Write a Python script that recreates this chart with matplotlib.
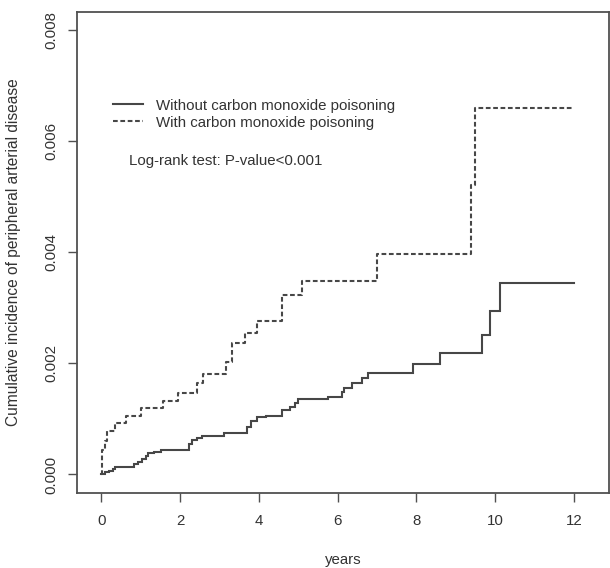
import matplotlib
matplotlib.use("Agg")
import matplotlib.pyplot as plt
from matplotlib.lines import Line2D

# ---- data ----
t_without = [0, 0.1, 0.2, 0.3, 0.35, 0.84, 0.94, 1.04, 1.14, 1.2, 1.35, 1.52,
             2.23, 2.3, 2.44, 2.57, 3.12, 3.71, 3.8, 3.95, 4.19, 4.58, 4.79,
             4.92, 5.0, 5.76, 6.1, 6.17, 6.36, 6.62, 6.77, 7.92, 8.6, 9.66,
             9.88, 10.12, 12.0]
ci_without = [0, 0.00004, 0.00007, 0.0001, 0.00014, 0.00019, 0.00023, 0.00027,
              0.00033, 0.00039, 0.00041, 0.00044, 0.00055, 0.00062, 0.00066,
              0.0007, 0.00074, 0.00085, 0.00097, 0.00103, 0.00106, 0.00116,
              0.00121, 0.00128, 0.00135, 0.0014, 0.00149, 0.00156, 0.00164,
              0.00173, 0.00183, 0.00199, 0.00218, 0.00251, 0.00294, 0.00345,
              0.00345]

t_with = [0, 0.03, 0.1, 0.16, 0.35, 0.63, 1.0, 1.58, 1.96, 2.42, 2.59, 3.16,
          3.31, 3.65, 3.95, 4.59, 5.1, 6.99, 9.38, 9.5, 12.0]
ci_with = [0, 0.00044, 0.0006, 0.00079, 0.00092, 0.00105, 0.00119, 0.00132,
           0.00147, 0.00164, 0.00181, 0.00202, 0.00236, 0.00254, 0.00276,
           0.00323, 0.00349, 0.00396, 0.00521, 0.00659, 0.00659]

labels = ["Without carbon monoxide poisoning", "With carbon monoxide poisoning"]
x_ticks = [0, 2, 4, 6, 8, 10, 12]
y_ticks = [0.000, 0.002, 0.004, 0.006, 0.008]
y_tick_labels = ["0.000", "0.002", "0.004", "0.006", "0.008"]
annotation = "Log-rank test: P-value<0.001"
xlabel = "years"
ylabel = "Cumulative incidence of peripheral arterial disease"

# ---- style ----
plt.rcParams['font.family'] = ['Liberation Sans', 'DejaVu Sans']
plt.rcParams['lines.scale_dashes'] = False
line_col = "#474747"
axis_col = "#505050"
text_col = "#333333"
dash = (0, (3.4, 1.9))
fs = 10.8
W, H = 610, 568

fig = plt.figure(figsize=(W / 100, H / 100), dpi=100)
ax = fig.add_axes([77 / W, 1 - 492.7 / H, (609 - 77) / W, (492.7 - 12.3) / H])

ax.step(t_without, ci_without, where='post', color=line_col, lw=1.5,
        solid_joinstyle='miter')
ax.step(t_with, ci_with, where='post', color=line_col, lw=1.5,
        linestyle=dash)

ax.set_xlim(-0.614, 12.89)
ax.set_ylim(-0.000328, 0.00832)
ax.set_xticks(x_ticks)
ax.set_xticklabels([str(v) for v in x_ticks])
ax.set_yticks(y_ticks)
ax.set_yticklabels(y_tick_labels, rotation=90, va='center')

for s in ax.spines.values():
    s.set_color(axis_col)
    s.set_linewidth(1.3)
ax.tick_params(axis='both', length=6.5, width=1.0, color=axis_col,
               labelcolor=text_col, labelsize=fs)
ax.tick_params(axis='x', pad=9)
ax.tick_params(axis='y', pad=7)

ax.set_xlabel(xlabel, fontsize=fs, color=text_col, labelpad=18)
ax.set_ylabel(ylabel, fontsize=11.2, color=text_col, labelpad=17)

handles = [Line2D([], [], color=line_col, lw=1.5),
           Line2D([], [], color=line_col, lw=1.5, linestyle=dash)]
leg = fig.legend(handles, labels, loc='center left',
                 bbox_to_anchor=(113 / W, 1 - 114.2 / H), frameon=False,
                 fontsize=fs, handlelength=2.0, handletextpad=0.9,
                 labelspacing=0.2, borderpad=0, borderaxespad=0)
for t in leg.get_texts():
    t.set_color(text_col)

fig.text(129.3 / W, 1 - 160.7 / H, annotation, fontsize=fs, color=text_col,
         ha='left', va='center')

fig.savefig("out.png", dpi=100, facecolor='white')
